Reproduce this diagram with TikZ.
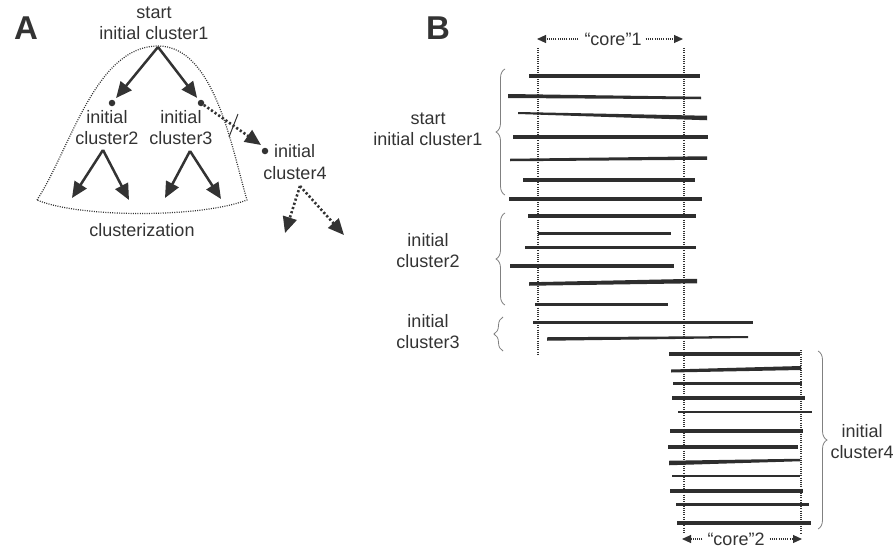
\documentclass[tikz,border=0pt]{standalone}
\usepackage{fontspec}
\setmainfont{Liberation Sans}
\usetikzlibrary{arrows.meta,decorations.pathreplacing}
\definecolor{ink}{HTML}{333333}
\definecolor{bar}{HTML}{2E2E2E}
\definecolor{brc}{HTML}{808080}
\tikzset{
  lbl/.style={text=ink,align=center,inner sep=0pt,font=\fontsize{18}{21}\selectfont},
  panel/.style={text=ink,inner sep=0pt,font=\fontsize{33}{34}\selectfont\bfseries},
  arr/.style={draw=ink,line width=2.5pt,-{Triangle[length=16pt,width=14pt]}},
  darr/.style={draw=ink,line width=2.6pt,dash pattern=on 2.2pt off 2.2pt,-{Triangle[length=16pt,width=14pt]}},
  dotn/.style={circle,fill=ink,inner sep=0pt,minimum size=6.5pt},
  vdot/.style={draw=ink,line width=1.1pt,dash pattern=on 1pt off 1.2pt},
  carr/.style={draw=ink,line width=1.1pt,dash pattern=on 1pt off 1.2pt,-{Triangle[length=9pt,width=8pt]}},
  brace/.style={draw=brc,line width=0.8pt,decorate,decoration={brace,amplitude=9pt}},
}
\begin{document}
\begin{tikzpicture}[x=1pt,y=-1pt]
\useasboundingbox (0,0) rectangle (896,549);
% ---------------- Panel A ----------------
\node[panel] (pA) at (26,28) {A};
\node[lbl] (t1) at (154,23) {start\\initial cluster1};
\coordinate (root) at (158,47);
\node[dotn] (d2) at (112,103) {};
\node[dotn] (d3) at (201,103) {};
\node[dotn] (d4) at (265,151) {};
\node[lbl] (t2) at (107,128) {initial\\cluster2};
\node[lbl] (t3) at (181,128) {initial\\cluster3};
\node[lbl,anchor=west] (t4a) at (274,151) {initial};
\node[lbl] (t4b) at (295,173) {cluster4};
\node[lbl] (tcl) at (142,230) {clusterization};
% dotted envelope
\draw[draw=ink,line width=1.2pt,dash pattern=on 1pt off 1.3pt]
  (37,200) .. controls (70,150) and (95,46) .. (158,46)
  .. controls (215,46) and (232,150) .. (247,200)
  .. controls (200,218) and (80,218) .. (37,200);
% tree arrows
\draw[arr,shorten >=3pt] (root) -- (d2);
\draw[arr,shorten >=3pt] (root) -- (d3);
\coordinate (a2) at (103,150);
\coordinate (a2l) at (72,198);
\coordinate (a2r) at (129,200);
\coordinate (a3) at (190,151);
\coordinate (a3l) at (165,198);
\coordinate (a3r) at (221,199);
\draw[arr] (a2) -- (a2l);
\draw[arr] (a2) -- (a2r);
\draw[arr] (a3) -- (a3l);
\draw[arr] (a3) -- (a3r);
\coordinate (e3) at (261,145);
\draw[darr] (d3) -- (e3);
\coordinate (xa) at (229,137);
\coordinate (xb) at (238,114);
\draw[draw=ink,line width=1pt] (xa) -- (xb);
\coordinate (a4) at (300,186);
\coordinate (a4l) at (285,233);
\coordinate (a4r) at (344,235);
\draw[darr] (a4) -- (a4l);
\draw[darr] (a4) -- (a4r);
% ---------------- Panel B ----------------
\node[panel] (pB) at (438,28) {B};
\coordinate (v1t) at (538,48);  \coordinate (v1b) at (538,355);
\coordinate (v2t) at (684,48);  \coordinate (v2b) at (684,533);
\coordinate (v3t) at (801,350); \coordinate (v3b) at (801,533);
\draw[vdot] (v1t) -- (v1b);
\draw[vdot] (v2t) -- (v2b);
\draw[vdot] (v3t) -- (v3b);
\node[lbl] (core1) at (613,39) {“core”1};
\coordinate (c1l) at (537,39); \coordinate (c1r) at (683,39);
\draw[carr] ([xshift=-6pt]core1.west) -- (c1l);
\draw[carr] ([xshift=4pt]core1.east) -- (c1r);
\node[lbl] (core2) at (736,539) {“core”2};
\coordinate (c2l) at (682,539); \coordinate (c2r) at (802,539);
\draw[carr] ([xshift=-5pt]core2.west) -- (c2l);
\draw[carr] ([xshift=5pt]core2.east) -- (c2r);
% bars: y1/y2/x1/x2/w1/w2
\foreach \ya/\yb/\xa/\xb/\wa/\wb in {
  76/76/529/700/4/4,
  96/98/508/701/4/2.5,
  113/118/518/707/2/4.5,
  137/137/513/708/4/4,
  160/158/510/707/2.5/3.5,
  180/180/523/695/3.5/3.5,
  199/199/509/702/3.5/3.5,
  216/216/528/696/4/4,
  233/233/538/671/3/3,
  247/247/525/696/3/3,
  266/266/510/674/4.5/4.5,
  284/281/529/697/3.5/4.5,
  304/304/535/668/3/3,
  322/322/533/753/3/3,
  339/337/547/748/3.5/2,
  354/354/669/800/4/4,
  371/368/671/801/3/4,
  383/383/673/802/3/3,
  398/398/672/805/3.5/3.5,
  412/412/678/812/2.5/2.5,
  431/431/670/803/4/4,
  447/447/668/798/4/4,
  463/460/669/800/4.5/2.5,
  476/476/672/800/2.5/2.5,
  491/491/670/803/4/4,
  504/504/676/809/3/3,
  523/523/677/811/4/4}
{
  \fill[bar] (\xa,\ya-\wa/2) -- (\xb,\yb-\wb/2) -- (\xb,\yb+\wb/2) -- (\xa,\ya+\wa/2) -- cycle;
}
% braces and labels
\draw[brace] (505,195) -- (505,69);
\node[lbl] (b1) at (428,129) {start\\initial cluster1};
\draw[brace] (505,305) -- (505,213);
\node[lbl] (b2) at (428,251) {initial\\cluster2};
\draw[brace] (503,351) -- (503,317);
\node[lbl] (b3) at (428,332) {initial\\cluster3};
\draw[brace] (818,351) -- (818,529);
\node[lbl] (b4) at (862,442) {initial\\cluster4};
\end{tikzpicture}
\end{document}
